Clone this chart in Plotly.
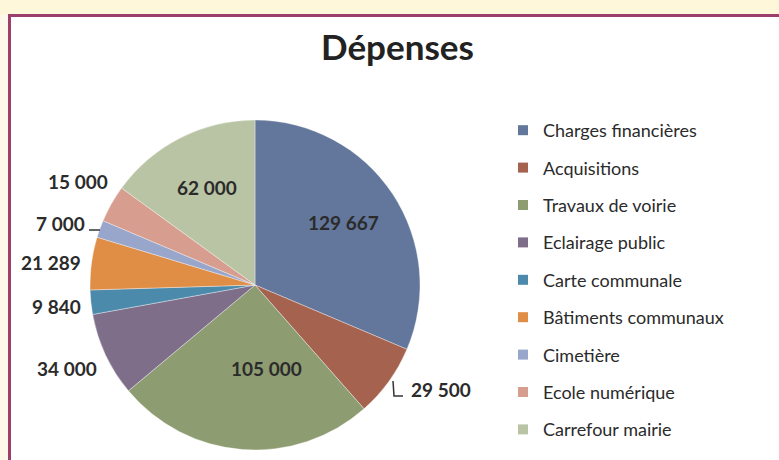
import plotly.graph_objects as go

categories = ["Charges financières", "Acquisitions", "Travaux de voirie", "Eclairage public",
              "Carte communale", "Bâtiments communaux", "Cimetière", "Ecole numérique",
              "Carrefour mairie"]
values = [129667, 29500, 105000, 34000, 9840, 21289, 7000, 15000, 62000]
colors = ["#62779B", "#A5634F", "#8E9C72", "#7E6E8A", "#4C8AAB", "#E08D45",
          "#98A6CB", "#D79D8E", "#B9C4A4"]
title = "Dépenses"

# label placement (pixels in the 779x460 page, top-left origin)
label_pos = [(343, 222), (441, 389), (266, 368), (67, 368), (56, 306),
             (51, 262), (60, 223), (78, 181), (207, 187)]

W, H = 779, 460
def px(x): return x / W
def py(y): return 1 - y / H

fmt = lambda v: f"{v:,}".replace(",", " ")

fig = go.Figure()
fig.add_trace(go.Pie(
    labels=categories, values=values, sort=False, direction="clockwise", rotation=0,
    marker=dict(colors=colors, line=dict(color="rgba(255,255,255,0.6)", width=0.6)),
    textinfo="none", hoverinfo="label+value", showlegend=False,
    domain=dict(x=[px(90), px(420)], y=[py(450), py(120)]),
))
for c, col in zip(categories, colors):
    fig.add_trace(go.Scatter(x=[None], y=[None], mode="markers", name=c,
                             legendgroup=c,
                             marker=dict(symbol="square", size=10, color=col)))

anns = []
for v, (x, y) in zip(values, label_pos):
    anns.append(dict(x=px(x), y=py(y), xref="paper", yref="paper", text=f"<b>{fmt(v)}</b>",
                     showarrow=False, xanchor="center", yanchor="middle",
                     font=dict(family="Lato", size=19, color="#2B2B2B")))
anns.append(dict(x=px(397), y=py(46), xref="paper", yref="paper", text=f"<b>{title}</b>",
                 showarrow=False, xanchor="center", yanchor="middle",
                 font=dict(family="Lato", size=35, color="#222222")))

shapes = [
    dict(type="rect", xref="paper", yref="paper", x0=0, x1=1, y0=0, y1=1,
         fillcolor="#FDF8EA", line=dict(width=0), layer="below"),
    dict(type="rect", xref="paper", yref="paper", x0=0, x1=1, y0=py(15), y1=1,
         fillcolor="#FEF7D9", line=dict(width=0), layer="below"),
    dict(type="rect", xref="paper", yref="paper", x0=px(9.5), x1=px(800), y0=py(480), y1=py(15.5),
         fillcolor="white", line=dict(color="#9C3F6C", width=3), layer="below"),
    # leader lines
    dict(type="line", xref="paper", yref="paper", x0=px(89), x1=px(100), y0=py(230), y1=py(230),
         line=dict(color="#333333", width=1.5)),
    dict(type="path", xref="paper", yref="paper",
         path=f"M {px(393)} {py(381)} L {px(394)} {py(396)} L {px(403)} {py(396)}",
         line=dict(color="#333333", width=1.5)),
]

fig.update_layout(
    width=W, height=H, autosize=False,
    margin=dict(l=0, r=0, t=0, b=0),
    paper_bgcolor="#FDF8EA", plot_bgcolor="rgba(0,0,0,0)",
    xaxis=dict(visible=False), yaxis=dict(visible=False),
    showlegend=True,
    legend=dict(x=px(503), y=py(112), xanchor="left", yanchor="top",
                font=dict(family="Lato", size=18, color="#2B2B2B"),
                tracegroupgap=11, bgcolor="rgba(0,0,0,0)", itemwidth=30),
    annotations=anns, shapes=shapes,
)
fig.write_html("out.html", config={"displayModeBar": False},
               post_script="document.body.style.margin='0';document.body.style.overflow='hidden';")
